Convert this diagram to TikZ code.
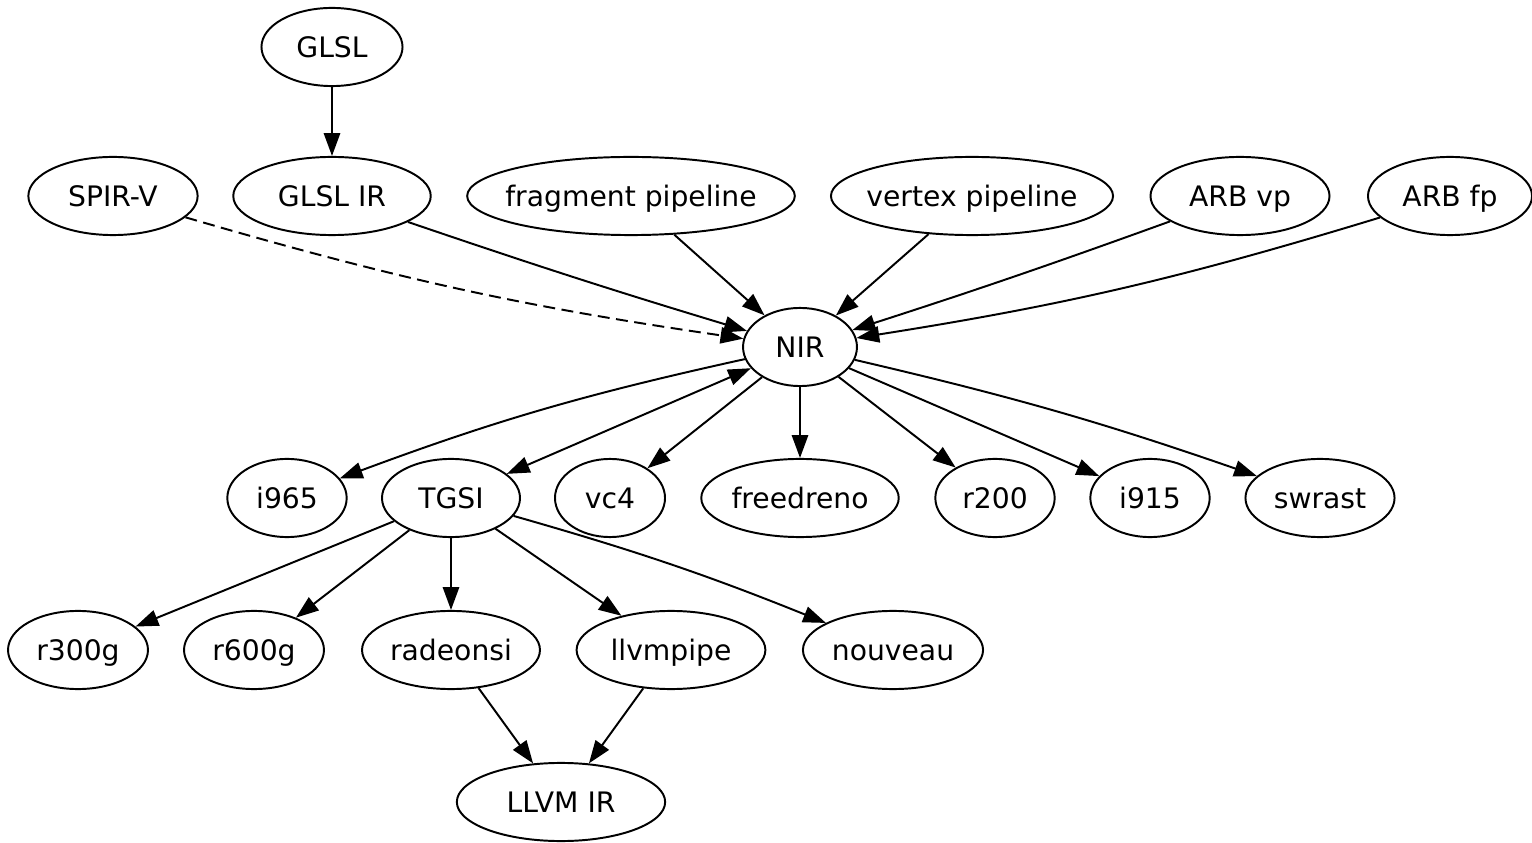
\documentclass[tikz,border=0pt]{standalone}
\usepackage{fontspec}
\setmainfont{DejaVu Sans}
\usepackage{tikz}
\usetikzlibrary{arrows.meta, shapes.geometric}

\begin{document}
\begin{tikzpicture}[x=0.4608pt, y=-0.4608pt,
            font=\fontsize{13}{15}\selectfont,
            >={Triangle[length=10.5pt, width=7.5pt]},
            oval/.style={draw, ellipse, line width=0.9pt, inner sep=0pt,
                         minimum height=36pt, minimum width=#1,
                         text height=9.8pt, text depth=0.5pt,
                         execute at begin node={\hbox to 0pt\bgroup\hss},
                         execute at end node={\hss\egroup}},
            edge/.style={->, line width=0.9pt}]
            \useasboundingbox (0,0) rectangle (1532,843);
            \node[oval=65pt]    (glsl)   at (332,47)   {GLSL};
            \node[oval=78pt]    (spirv)  at (113,196)  {SPIR-V};
            \node[oval=91pt]    (glslir) at (332,196)  {GLSL IR};
            \node[oval=151pt]   (frag)   at (631,196)  {fragment pipeline};
            \node[oval=130pt]   (vert)   at (972,196)  {vertex pipeline};
            \node[oval=82.5pt]  (arbvp)  at (1240,196) {ARB vp};
            \node[oval=75.6pt]  (arbfp)  at (1450,196) {ARB fp};
            \node[oval=52.5pt]  (nir)    at (800,347)  {NIR};
            \node[oval=55pt]    (i965)   at (287,498)  {i965};
            \node[oval=63.6pt]  (tgsi)   at (451,498)  {TGSI};
            \node[oval=50.7pt]  (vc4)    at (610,498)  {vc4};
            \node[oval=91pt]    (fdreno) at (800,498)  {freedreno};
            \node[oval=55pt]    (r200)   at (995,498)  {r200};
            \node[oval=55pt]    (i915)   at (1150,498) {i915};
            \node[oval=68.7pt]  (swrast) at (1320,498) {swrast};
            \node[oval=64.5pt]  (r300)   at (78,650)   {r300g};
            \node[oval=64.5pt]  (r600)   at (254,650)  {r600g};
            \node[oval=82pt]    (rsi)    at (451,650)  {radeonsi};
            \node[oval=87pt]    (llvmp)  at (671,650)  {llvmpipe};
            \node[oval=83pt]    (nouv)   at (893,650)  {nouveau};
            \node[oval=96pt]    (llvmir) at (561,802)  {LLVM IR};

            \draw[edge] (glsl) -- (glslir);
            \draw[edge, dash pattern=on 5.5pt off 3pt] (spirv) to[bend right=4] (nir);
            \draw[edge] (glslir) to[bend right=1] (nir);
            \draw[edge] (frag) -- (nir);
            \draw[edge] (vert) -- (nir);
            \draw[edge] (arbvp) to[bend left=1] (nir);
            \draw[edge] (arbfp) to[bend left=4] (nir);
            \draw[edge] (nir) to[bend right=4] (i965);
            \draw[edge, <->] (nir) -- (tgsi);
            \draw[edge] (nir) -- (vc4);
            \draw[edge] (nir) -- (fdreno);
            \draw[edge] (nir) -- (r200);
            \draw[edge] (nir) -- (i915);
            \draw[edge] (nir) to[bend left=3] (swrast);
            \draw[edge] (tgsi) -- (r300);
            \draw[edge] (tgsi) -- (r600);
            \draw[edge] (tgsi) -- (rsi);
            \draw[edge] (tgsi) -- (llvmp);
            \draw[edge] (tgsi) to[bend left=3] (nouv);
            \draw[edge] (rsi) -- (llvmir);
            \draw[edge] (llvmp) -- (llvmir);
          \end{tikzpicture}
\end{document}
